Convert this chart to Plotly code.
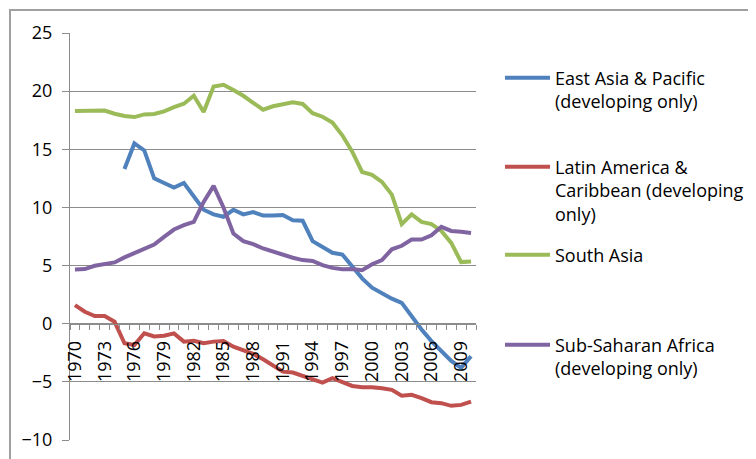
import plotly.graph_objects as go

years = list(range(1970, 2011))

east_asia = [None, None, None, None, None,
             13.3, 15.5, 14.9, 12.5, 12.1, 11.7, 12.1, 11.0, 9.8, 9.4,
             9.2, 9.8, 9.4, 9.6, 9.3, 9.3, 9.35, 8.9, 8.85, 7.1,
             6.55, 6.1, 5.95, 4.9, 3.9, 3.1, 2.6, 2.15, 1.8, 0.6,
             -0.5, -1.5, -2.4, -3.2, -3.8, -2.8]

latin_america = [1.6, 1.03, 0.66, 0.66, 0.17, -1.68, -1.83, -0.82, -1.1, -1.03,
                 -0.83, -1.54, -1.46, -1.68, -1.54, -1.48, -1.97, -2.3, -2.6, -3.06,
                 -3.63, -4.12, -4.2, -4.46, -4.77, -5.06, -4.69, -5.06, -5.35, -5.46,
                 -5.46, -5.55, -5.69, -6.2, -6.12, -6.4, -6.75, -6.83, -7.06, -6.98,
                 -6.7]

south_asia = [18.3, 18.3, 18.33, 18.33, 18.06, 17.86, 17.77, 18.0, 18.03, 18.26,
              18.63, 18.92, 19.6, 18.2, 20.4, 20.55, 20.1, 19.6, 19.0, 18.4,
              18.7, 18.9, 19.05, 18.9, 18.1, 17.8, 17.3, 16.2, 14.8, 13.05,
              12.8, 12.2, 11.1, 8.56, 9.4, 8.76, 8.56, 7.98, 6.95, 5.3,
              5.35]

sub_saharan = [4.67, 4.7, 4.98, 5.12, 5.27, 5.7, 6.04, 6.47, 6.8, 7.47,
               8.1, 8.47, 8.76, 10.47, 11.85, 10.0, 7.76, 7.1, 6.84, 6.47,
               6.18, 5.96, 5.67, 5.47, 5.4, 5.04, 4.8, 4.68, 4.7, 4.6,
               5.12, 5.47, 6.4, 6.7, 7.24, 7.24, 7.6, 8.33, 7.98, 7.9,
               7.81]

series_names = ["East Asia & Pacific<br>(developing only)",
                "Latin America &<br>Caribbean (developing<br>only)",
                "South Asia",
                "Sub-Saharan Africa<br>(developing only)"]
series_values = [east_asia, latin_america, south_asia, sub_saharan]
series_colors = ["#4F81BD", "#C0504D", "#9BBB59", "#8064A2"]

tick_years = list(range(1970, 2010, 3))
tick_labels = [str(y) for y in tick_years]
y_ticks = [-10, -5, 0, 5, 10, 15, 20, 25]

FONT = "Open Sans"
GRID = "#8C8C8C"

# page body has an 8px margin; the figure sits at (8, 8) in the window
OFF = 8
W, H = 756 - OFF, 459 - OFF
L, R, T, B = 62, 280, 25, 19
plot_w = W - L - R
plot_h = H - T - B

def py(pix):
    return (H - B - (pix - OFF)) / plot_h

def px(pix):
    return (pix - OFF - L) / plot_w

fig = go.Figure()
legend_ids = ["legend", "legend2", "legend3", "legend4"]
legend_tops = [59.5, 148.5, 236.5, 326.5]
for name, vals, col, lid in zip(series_names, series_values, series_colors, legend_ids):
    fig.add_trace(go.Scatter(x=years, y=vals, name=name, mode="lines",
                             line=dict(color=col, width=4), legend=lid,
                             connectgaps=False))

legend_common = dict(x=px(500), xanchor="left", yanchor="top",
                     font=dict(family=FONT, size=18, color="#000000"),
                     bgcolor="rgba(0,0,0,0)", borderwidth=0, valign="top",
                     itemwidth=45, tracegroupgap=0)

layout_legends = {}
for lid, top in zip(legend_ids, legend_tops):
    layout_legends[lid] = dict(legend_common, y=py(top))

fig.update_layout(
    width=W, height=H,
    margin=dict(l=L, r=R, t=T, b=B, pad=0, autoexpand=False),
    paper_bgcolor="white", plot_bgcolor="white",
    font=dict(family=FONT, size=18, color="#000000"),
    showlegend=True,
    **layout_legends,
    xaxis=dict(range=[1969.5, 2010.5], anchor="free", position=10 / 35,
               automargin=False,
               showline=True, linecolor=GRID, linewidth=1,
               showgrid=False, zeroline=False,
               tickmode="array", tickvals=tick_years, ticktext=tick_labels,
               tickangle=-90, ticks="", ticklabelstandoff=9,
               tickfont=dict(family=FONT, size=18, color="#000000"),
               minor=dict(ticks="outside", tick0=1969.5, dtick=1, ticklen=5,
                          tickcolor=GRID, tickwidth=1, showgrid=False)),
    yaxis=dict(range=[-10, 25], tickvals=y_ticks, automargin=False,
               showline=True, linecolor=GRID, linewidth=1,
               showgrid=True, gridcolor=GRID, gridwidth=1, zeroline=False,
               ticks="outside", ticklen=7, tickcolor=GRID, ticklabelstandoff=6,
               tickfont=dict(family=FONT, size=18, color="#000000")),
)

# chart-area frame (only its top and left edges fall inside the picture)
fig.add_annotation(xref="paper", yref="paper", x=px(9), y=py(9),
                   xanchor="left", yanchor="top", text=" ", showarrow=False,
                   width=800, height=520, borderpad=0, borderwidth=2,
                   bordercolor="#A0A0A0", bgcolor="rgba(0,0,0,0)")

fig.write_html("out.html")
